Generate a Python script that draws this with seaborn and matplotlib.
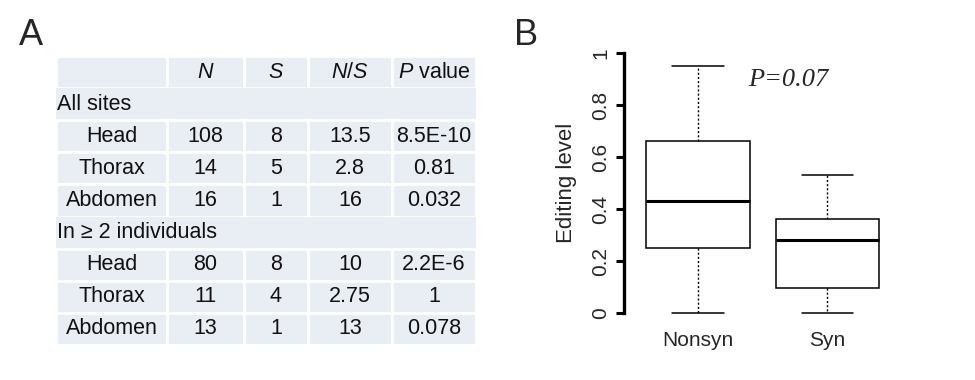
import matplotlib
matplotlib.use("Agg")
import matplotlib.pyplot as plt
import seaborn as sns
import pandas as pd

# ---- Data ----
col_headers = ["", "$\\mathit{N}$", "$\\mathit{S}$", "$\\mathit{N/S}$", "$\\mathit{P}$ value"]
row_labels = ["All sites", "Head", "Thorax", "Abdomen",
              "In \u2265 2 individuals", "Head", "Thorax", "Abdomen"]
section_rows = [0, 4]
n_vals = ["", "108", "14", "16", "", "80", "11", "13"]
s_vals = ["", "8", "5", "1", "", "8", "4", "1"]
ns_vals = ["", "13.5", "2.8", "16", "", "10", "2.75", "13"]
p_vals = ["", "8.5E-10", "0.81", "0.032", "", "2.2E-6", "1", "0.078"]

categories = ["Nonsyn", "Syn"]
nonsyn_levels = [0.0, 0.25, 0.43, 0.66, 0.95]
syn_levels = [0.0, 0.095, 0.28, 0.36, 0.53]
y_ticks = [0, 0.2, 0.4, 0.6, 0.8, 1]
y_ticklabels = ["0", "0.2", "0.4", "0.6", "0.8", "1"]
p_text = "P=0.07"

# ---- Style ----
sns.set_theme(style="white")
plt.rcParams["font.family"] = ["Liberation Sans", "DejaVu Sans"]
plt.rcParams["mathtext.fontset"] = "custom"
plt.rcParams["mathtext.it"] = "Liberation Sans:italic"
plt.rcParams["mathtext.rm"] = "Liberation Sans"

fig = plt.figure(figsize=(9.75, 3.8), dpi=100)
W, H = 975, 380

def px_axes(l, t, r, b):
    return fig.add_axes([l / W, 1 - b / H, (r - l) / W, (b - t) / H])

# ---- Panel A: table ----
axA = px_axes(56, 56, 476, 345)
axA.axis("off")
cell_text = [col_headers]
for i in range(len(row_labels)):
    label = "" if i in section_rows else row_labels[i]
    cell_text.append([label, n_vals[i], s_vals[i], ns_vals[i], p_vals[i]])
col_w = [111, 77, 64, 84, 84]
col_w = [c / sum(col_w) for c in col_w]
cell_color = "#E9EDF4"
tbl = axA.table(cellText=cell_text,
                cellColours=[[cell_color] * 5 for _ in cell_text],
                colWidths=col_w, cellLoc="center", bbox=[0, 0, 1, 1])
tbl.auto_set_font_size(False)
tbl.set_fontsize(15.5)
for (r, c), cell in tbl.get_celld().items():
    cell.set_edgecolor("white")
    cell.set_linewidth(2.0)
    cell.get_text().set_color("#111111")
    if r >= 1 and (r - 1) in section_rows:
        cell.set_linewidth(0)

n_rows = len(cell_text)
for i in section_rows:
    axA.text(0.003, 1 - (i + 1.5) / n_rows, row_labels[i], transform=axA.transAxes,
             ha="left", va="center", fontsize=15.5, color="#111111", zorder=5)

# ---- Panel B: boxplot ----
axB = px_axes(624, 53, 900, 313)
df = pd.DataFrame({
    "group": [categories[0]] * len(nonsyn_levels) + [categories[1]] * len(syn_levels),
    "level": nonsyn_levels + syn_levels,
})
sns.boxplot(data=df, x="group", y="level", order=categories, ax=axB,
            width=0.8, whis=1.5, linecolor="black", linewidth=1.1,
            boxprops=dict(facecolor="white", edgecolor="black"),
            whiskerprops=dict(linestyle=(0, (1.5, 1.5)), linewidth=1.0),
            capprops=dict(linewidth=1.1),
            medianprops=dict(linewidth=2.2, color="black"),
            showfliers=False)
for art in axB.get_children():
    try:
        art.set_clip_on(False)
    except Exception:
        pass
axB.set_xlim(-0.571, 1.56)
axB.set_ylim(0, 1)
axB.set_yticks(y_ticks)
axB.set_yticklabels(y_ticklabels, rotation=90, va="center", fontsize=15)
axB.tick_params(axis="y", left=True, length=6, width=2.2, pad=4, color="black")
axB.tick_params(axis="x", length=0, pad=13, labelsize=15)
for side in ["top", "right", "bottom"]:
    axB.spines[side].set_visible(False)
axB.spines["left"].set_linewidth(2.4)
axB.spines["left"].set_color("black")
axB.set_xlabel("")
axB.set_ylabel("Editing level", fontsize=16, labelpad=10)
axB.text(0.695, 0.895, p_text, ha="center", va="center", fontsize=19,
         style="italic", family=["Liberation Serif", "DejaVu Serif"])

# ---- Panel labels ----
fig.text(19 / W, 1 - 45 / H, "A", fontsize=26, va="baseline", ha="left")
fig.text(514 / W, 1 - 45 / H, "B", fontsize=26, va="baseline", ha="left")

fig.savefig("out.png", dpi=100, facecolor="white")
